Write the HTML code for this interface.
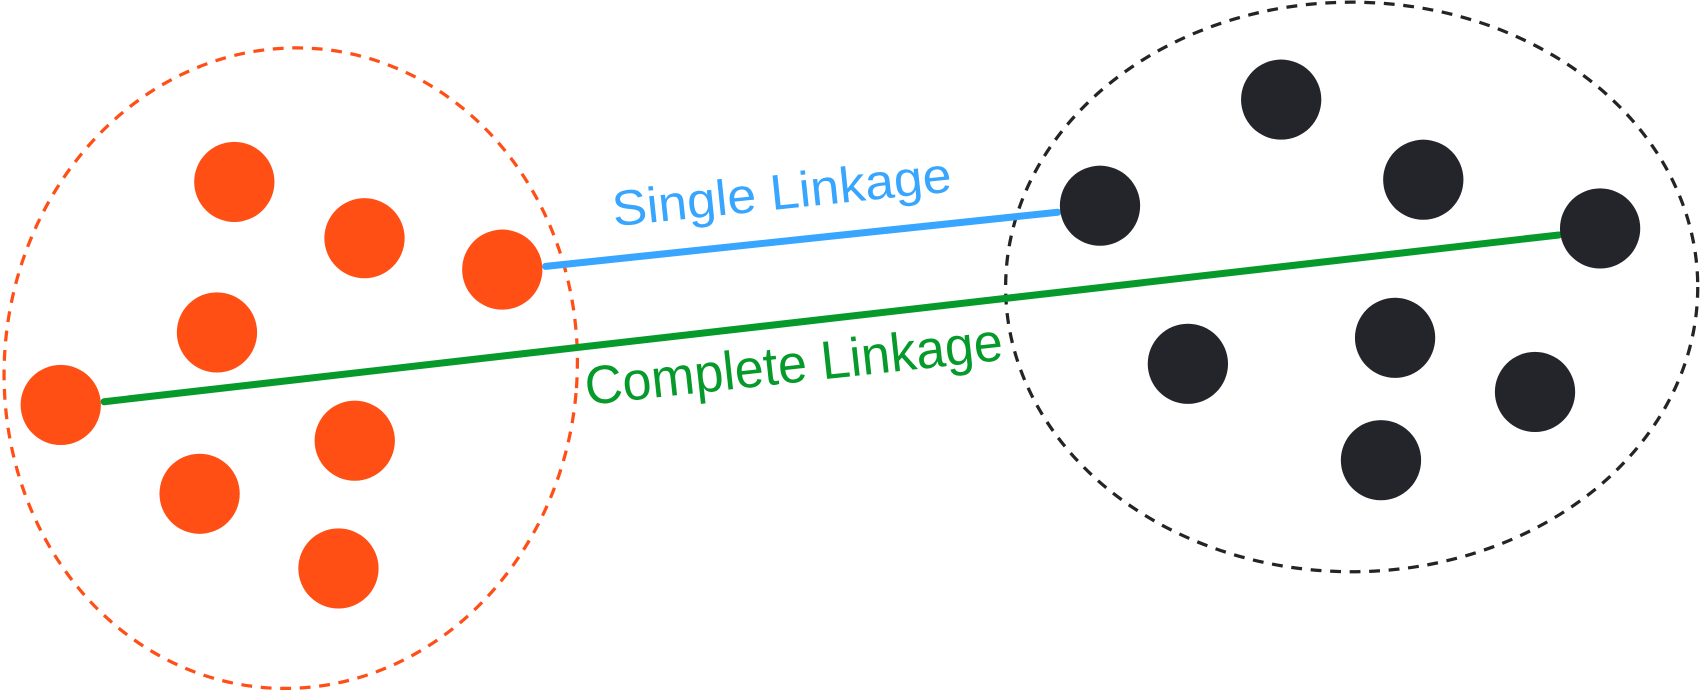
<!DOCTYPE html>
<html><head><style>html,body{margin:0;padding:0;background:#fff;}svg{display:block;}</style></head>
<body>
<svg width="1701" height="693" viewBox="0 0 1568 640" preserveAspectRatio="none" xmlns="http://www.w3.org/2000/svg">
<ellipse cx="268" cy="340" rx="264" ry="296" transform="rotate(5 268 340)" fill="none" stroke="#ff4f17" stroke-width="3" stroke-dasharray="10 8"/>
<ellipse cx="1246" cy="265" rx="319" ry="263" fill="none" stroke="#232427" stroke-width="3" stroke-dasharray="10 8"/>
<line x1="503" y1="246" x2="975" y2="196" stroke="#38a5ff" stroke-width="6.5" stroke-linecap="round"/>
<line x1="96" y1="371" x2="1437" y2="217" stroke="#069a2b" stroke-width="6.5" stroke-linecap="round"/>
<g fill="#ff4f14">
<circle cx="216" cy="168" r="37"/><circle cx="336" cy="220" r="37"/><circle cx="463" cy="249" r="37"/>
<circle cx="200" cy="307" r="37"/><circle cx="56" cy="374" r="37"/><circle cx="327" cy="407" r="37"/>
<circle cx="184" cy="456" r="37"/><circle cx="312" cy="525" r="37"/>
</g>
<g fill="#24252a">
<circle cx="1181" cy="92" r="37"/><circle cx="1312" cy="166" r="37"/><circle cx="1014" cy="190" r="37"/>
<circle cx="1475" cy="211" r="37"/><circle cx="1286" cy="312" r="37"/><circle cx="1095" cy="336" r="37"/>
<circle cx="1415" cy="362" r="37"/><circle cx="1273" cy="425" r="37"/>
</g>
<text x="566" y="209" transform="rotate(-5.9 566 209)" font-family="Liberation Sans, sans-serif" font-size="46" fill="#38a5ff" textLength="314" lengthAdjust="spacingAndGlyphs">Single Linkage</text>
<text x="541" y="374" transform="rotate(-6.2 541 374)" font-family="Liberation Sans, sans-serif" font-size="50" fill="#069a2b" textLength="387" lengthAdjust="spacingAndGlyphs">Complete Linkage</text>
</svg>
</body></html>
